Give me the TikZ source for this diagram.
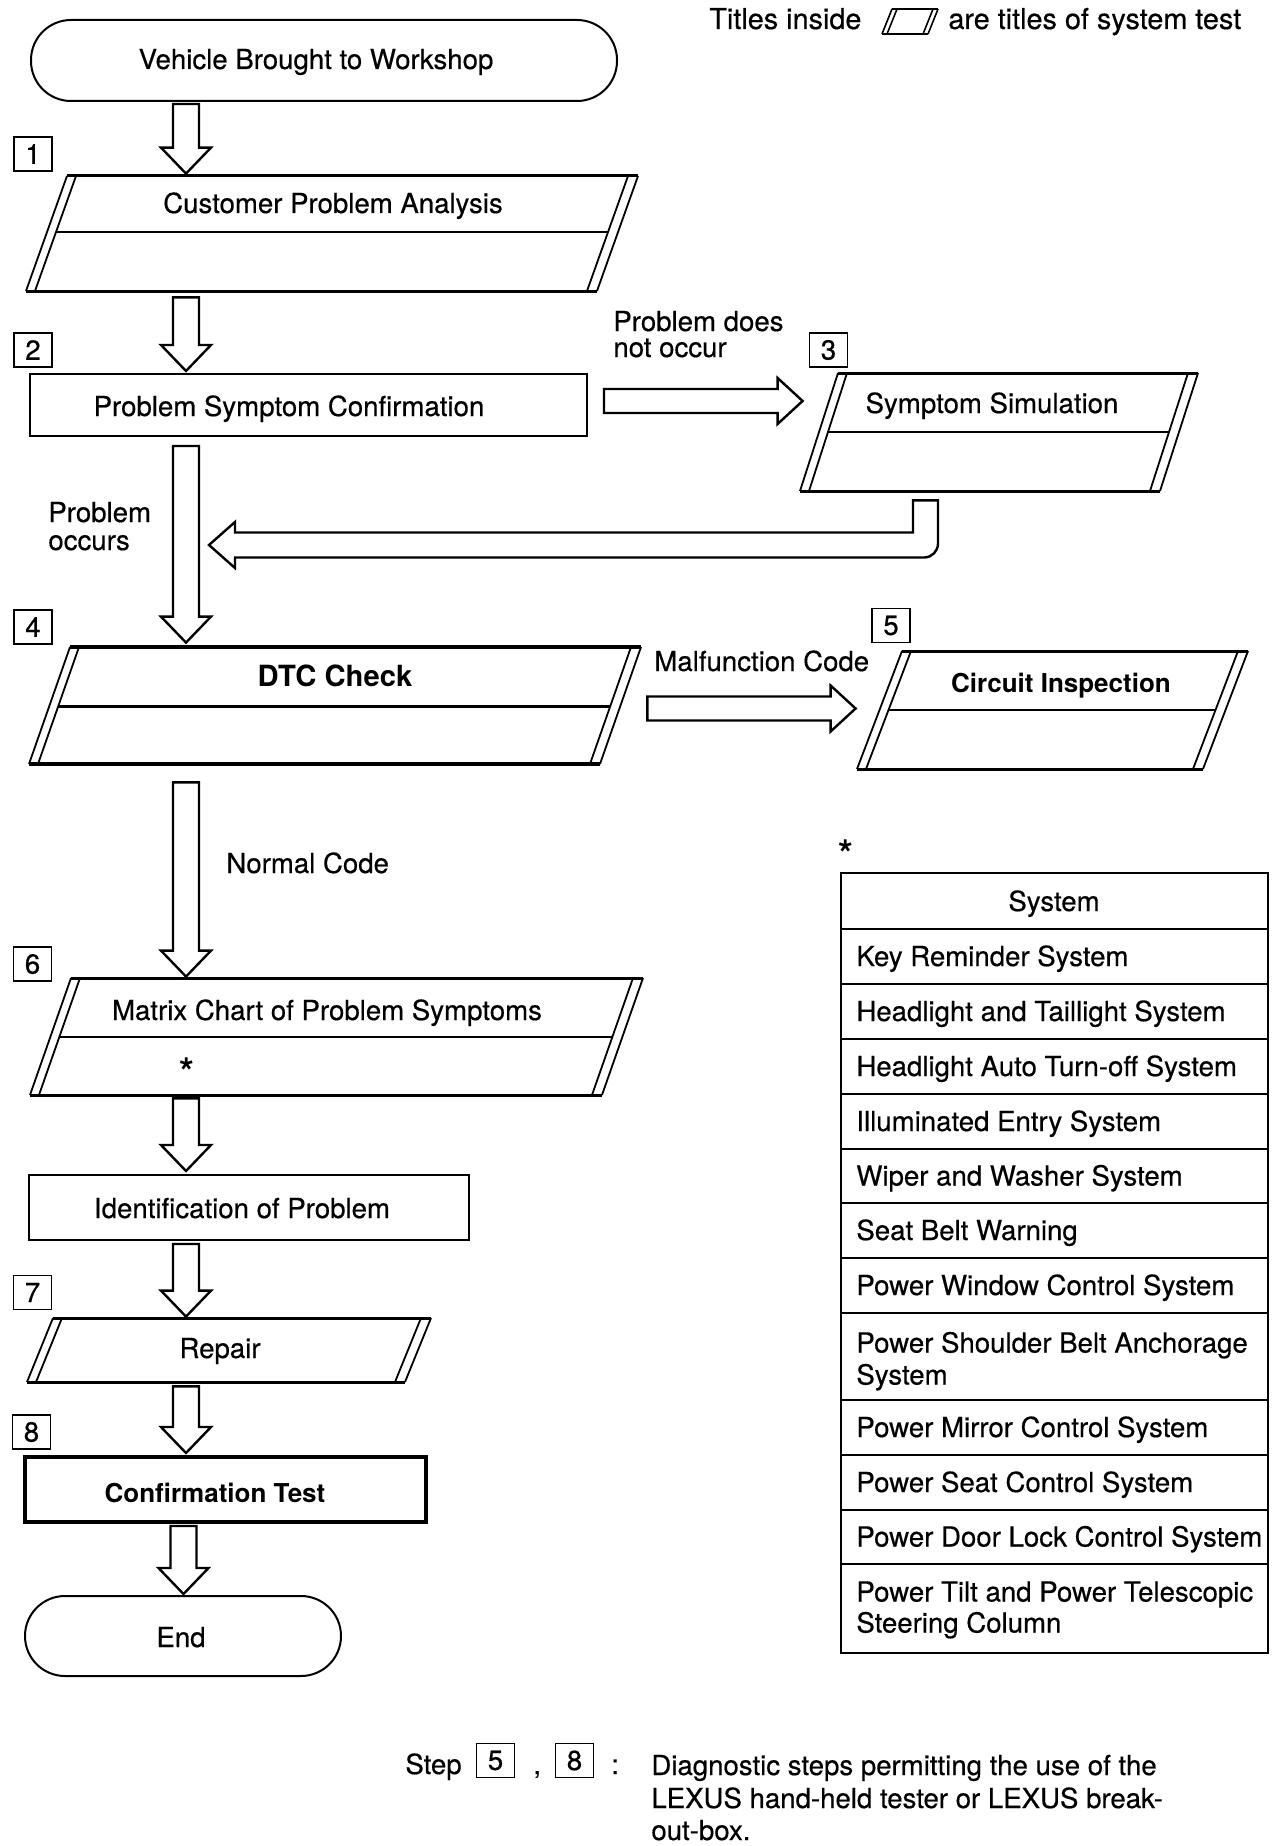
\documentclass[tikz,border=0pt]{standalone}
\usepackage{fontspec}
\setmainfont{TeX Gyre Heros}[UprightFeatures={FakeBold=0.5}]
\usetikzlibrary{calc,fit}
\newcommand\rg{\fontsize{13.8}{16}\selectfont}
\newcommand\lgf{\fontsize{14.4}{16}\selectfont}
\newcommand\bd{\bfseries\fontsize{13}{16}\selectfont}
\newcommand\st{\bfseries\fontsize{19}{19}\selectfont}
% vertical block arrow from point #1 (top) to tip #2
\newcommand\darrow[2]{\draw[blk] let \p1=(#1), \p2=(#2) in
  (\x1-6.5pt,\y1) -- (\x1-6.5pt,\y2+13pt) -- (\x1-12.5pt,\y2+13pt) -- (\x1,\y2)
  -- (\x1+12.5pt,\y2+13pt) -- (\x1+6.5pt,\y2+13pt) -- (\x1+6.5pt,\y1) -- cycle;}
% horizontal block arrow, y from #1, tip x from #2
\newcommand\rarrow[2]{\draw[blk] let \p1=(#1), \p2=(#2) in
  (\x1,\y1+6pt) -- (\x2-12.5pt,\y1+6pt) -- (\x2-12.5pt,\y1+11.5pt) -- (\x2,\y1)
  -- (\x2-12.5pt,\y1-11.5pt) -- (\x2-12.5pt,\y1-6pt) -- (\x1,\y1-6pt) -- cycle;}
% parallelogram: name, xTopLeft, yTop, xTopRight, yBottom, slant, edge style
\newcommand\pgshape[7]{%
  \node[fit={(#2-#6,#3) (#4,#5)}, inner sep=0pt] (#1) {};
  \draw[pgedge,#7] (#2,#3) -- (#4,#3) (#2-#6,#5) -- (#4-#6,#5);
  \draw[pgside] (#2,#3) -- (#2-#6,#5) (#2+9,#3) -- (#2+9-#6,#5)
    (#4,#3) -- (#4-#6,#5) (#4-10,#3) -- (#4-10-#6,#5);}
% divider: xTL, yT, xTR, yB, slant, y
\newcommand\pgdiv[6]{%
  \draw[pgdivider] ({#1+9-#5*(#6-#2)/(#4-#2)},#6) -- ({#3-10-#5*(#6-#2)/(#4-#2)},#6);}
\begin{document}
\begin{tikzpicture}[x=0.5pt,y=-0.5pt,
  every node/.style={inner sep=0pt,font=\rg},
  blk/.style={draw,line width=1.2pt,line join=miter},
  pgedge/.style={line width=1.5pt},
  pgside/.style={line width=0.9pt},
  pgdivider/.style={line width=1.2pt},
  thickedge/.style={line width=2.4pt},
  stepbox/.style={draw,line width=0.8pt,minimum width=19pt,minimum height=17pt},
  hrow/.style={line width=1.3pt},
  trow/.style={anchor=base west}]
\fill[white] (0,0) rectangle (1280,1846);
\useasboundingbox (0,0) rectangle (1280,1846);

\coordinate (ax) at (186,0);
\coordinate (rx) at (925.5,0);
\coordinate (rtip) at (209,545);

% legend
\node[anchor=base west,font=\lgf] (lg1) at (709,29) {Titles inside};
\draw[line width=1.3pt] (892,9) -- (938,9) (882,34) -- (928,34);
\draw[line width=0.8pt] (892,9) -- (882,34) (897,9) -- (887,34) (938,9) -- (928,34) (933,9) -- (923,34);
\node[anchor=base west,font=\lgf] (lg2) at (948,29) {are titles of system test};

% start
\node[fit={(31,20) (617,101)}, draw, line width=1pt, rounded corners=20pt] (start) {};
\node[anchor=base] (t0) at (316,69) {Vehicle Brought to Workshop};

% step 1
\node[stepbox] (s1) at (33,154) {1};
\pgshape{p1}{67}{176}{638}{291}{41}{}
\pgdiv{67}{176}{638}{291}{41}{232}
\node[anchor=base] (t1) at (333,213) {Customer Problem Analysis};
\darrow{$(start.south -| ax)+(0,2)$}{$(p1.north -| ax)+(0,-2)$}

% step 2
\node[stepbox] (s2) at (33,350) {2};
\node[fit={(30,374) (587,436)}, draw, line width=1pt] (r2) {};
\node[anchor=base] (t2) at (289,416) {Problem Symptom Confirmation};
\darrow{$(p1.south -| ax)+(0,6)$}{$(r2.north -| ax)+(0,-2)$}

% step 3
\node[anchor=base west] (l1a) at (613,331) {Problem does};
\node[anchor=base west] (l1b) at (613,357) {not occur};
\node[stepbox] (s3) at (828.5,350) {3};
\pgshape{p3}{838}{373}{1198}{491}{38}{}
\pgdiv{838}{373}{1198}{491}{38}{432}
\node[anchor=base] (t3) at (992,413) {Symptom Simulation};
\rarrow{$(r2.east)+(16,-4)$}{$(p3.west)+(3,0)$}

% return arrow
\draw[blk] let \p1=($(p3.south -| rx)+(0,9)$), \p2=(rtip) in
  (\x1-6.25pt,\y1) -- (\x1-6.25pt,\y2+6.25pt) -- (\x2+13pt,\y2+6.25pt)
  -- (\x2+13pt,\y2+11.5pt) -- (\x2,\y2) -- (\x2+13pt,\y2-11.5pt)
  -- (\x2+13pt,\y2-6.25pt) -- (\x1+6.25pt-7pt,\y2-6.25pt)
  .. controls (\x1+6.25pt-3.1pt,\y2-6.25pt) and (\x1+6.25pt,\y2-6.25pt+3.1pt) .. (\x1+6.25pt,\y2-6.25pt+7pt)
  -- (\x1+6.25pt,\y1) -- cycle;
\node[anchor=base west] (l2a) at (48,522) {Problem};
\node[anchor=base west] (l2b) at (48,550) {occurs};

% step 4
\node[stepbox] (s4) at (33,627) {4};
\pgshape{p4}{70}{647}{641}{764}{41}{thickedge}
\draw[line width=1.5pt] ({70+9-41*(706-647)/(764-647)},706) -- ({641-10-41*(706-647)/(764-647)},706);
\node[anchor=base,font=\bfseries\fontsize{14.6}{16}\selectfont] (t4) at (335,686) {DTC Check};
\darrow{$(r2.south -| ax)+(0,9)$}{$(p4.north -| ax)+(0,-4)$}

% step 5
\node[anchor=base west] (l3) at (654,671) {Malfunction Code};
\node[stepbox] (s5) at (891,625.5) {5};
\pgshape{p5}{902}{651}{1248}{769}{45}{}
\pgdiv{902}{651}{1248}{769}{45}{710}
\node[anchor=base,font=\bd] (t5) at (1061,692) {Circuit Inspection};
\rarrow{$(p4.east)+(6,3)$}{$(p5.west)+(-1,0)$}

% step 6
\node[anchor=base west] (l4) at (226,873) {Normal Code};
\node[stepbox] (s6) at (32.5,964) {6};
\pgshape{p6}{71}{978}{643}{1095}{41}{}
\pgdiv{71}{978}{643}{1095}{41}{1037}
\node[anchor=base] (t6) at (327,1020) {Matrix Chart of Problem Symptoms};
\node[font=\st] (t6b) at (187,1072) {*};
\darrow{$(p4.south -| ax)+(0,18)$}{$(p6.north -| ax)+(0,-1)$}

% identification
\node[fit={(29,1175) (469,1240)}, draw, line width=1pt] (r6) {};
\node[anchor=base] (t7) at (242,1218) {Identification of Problem};
\darrow{$(p6.south -| ax)+(0,3)$}{$(r6.north -| ax)+(0,-3)$}

% step 7
\node[stepbox] (s7) at (32.5,1292.5) {7};
\pgshape{p7}{53}{1318}{431}{1382}{26}{}
\node[anchor=base] (t8) at (220,1358) {Repair};
\darrow{$(r6.south -| ax)+(0,3)$}{$(p7.north -| ax)+(0,-1)$}

% step 8
\node[stepbox] (s8) at (31.5,1432) {8};
\node[fit={(25,1457) (426,1522)}, draw, line width=2pt] (r8) {};
\node[anchor=base,font=\bd] (t9) at (215,1502) {Confirmation Test};
\darrow{$(p7.south -| ax)+(0,4)$}{$(r8.north -| ax)+(0,-2)$}

% end
\node[fit={(25,1596) (341,1676)}, draw, line width=1pt, rounded corners=20pt] (end) {};
\node[anchor=base] (t10) at (181,1647) {End};
\darrow{$(r8.south -| ax)+(-2.5,2)$}{$(end.north -| ax)+(-2.5,-1)$}

% table
\node[font=\st] (star) at (846,854) {*};
\node[fit={(841,873) (1268,1653)}, draw, line width=0.9pt] (tbl) {};
\foreach \yy in {929,984,1039,1094,1149,1203,1258,1313,1400,1455,1510,1564}
  \draw[hrow] (841,\yy) -- (1268,\yy);
\draw[hrow] (841,873) -- (1268,873) (841,1653) -- (1268,1653);
\node[anchor=base] (h0) at (1054,911) {System};
\node[trow] (h1) at (856,966) {Key Reminder System};
\node[trow] (h2) at (856,1021) {Headlight and Taillight System};
\node[trow] (h3) at (856,1076) {Headlight Auto Turn-off System};
\node[trow] (h4) at (856,1131) {Illuminated Entry System};
\node[trow] (h5) at (856,1185.5) {Wiper and Washer System};
\node[trow] (h6) at (856,1240) {Seat Belt Warning};
\node[trow] (h7) at (856,1295) {Power Window Control System};
\node[trow] (h8a) at (856,1352.5) {Power Shoulder Belt Anchorage};
\node[trow] (h8b) at (856,1384.5) {System};
\node[trow] (h9) at (856,1437) {Power Mirror Control System};
\node[trow] (h10) at (856,1492) {Power Seat Control System};
\node[trow] (h11) at (856,1546.5) {Power Door Lock Control System};
\node[trow] (h12a) at (856,1601.5) {Power Tilt and Power Telescopic};
\node[trow] (h12b) at (856,1632.5) {Steering Column};

% footnote
\node[anchor=base west] (f0) at (405,1774) {Step};
\node[stepbox,line width=0.6pt] (f5) at (495.5,1760.5) {5};
\node[anchor=base west] (fc) at (533,1774) {,};
\node[stepbox,line width=0.6pt] (f8) at (574.5,1760.5) {8};
\node[anchor=base west] (fd) at (611,1774) {:};
\node[anchor=base west] (f1) at (651,1775) {Diagnostic steps permitting the use of the};
\node[anchor=base west] (f2) at (651,1808) {LEXUS hand-held tester or LEXUS break-};
\node[anchor=base west] (f3) at (651,1840) {out-box.};
\end{tikzpicture}
\end{document}
